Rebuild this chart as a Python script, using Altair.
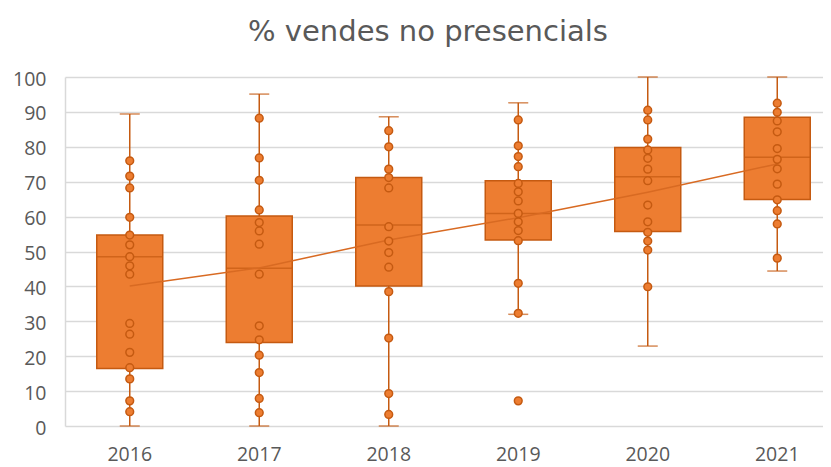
import altair as alt
import pandas as pd

years = ["2016", "2017", "2018", "2019", "2020", "2021"]
whisker_low = [0, 0, 0, 32.0, 22.9, 44.4]
whisker_high = [89.4, 95.1, 88.6, 92.6, 100, 100]
q1 = [16.5, 23.9, 40.1, 53.3, 55.7, 64.9]
q3 = [54.7, 60.2, 71.2, 70.3, 79.8, 88.5]
median = [48.5, 45.2, 57.6, 60.9, 71.4, 77.0]
mean = [40.1, 45.3, 53.3, 59.7, 67.0, 75.1]

pts_2016 = [76.0, 71.6, 68.2, 59.8, 54.7, 51.9, 48.5, 45.9, 43.5, 29.4, 26.3, 21.1, 16.7, 13.5, 7.2, 4.1]
pts_2017 = [88.2, 76.8, 70.4, 61.9, 58.3, 55.9, 52.1, 43.5, 28.7, 24.7, 20.3, 15.3, 7.9, 3.8]
pts_2018 = [84.6, 80.0, 73.6, 71.2, 68.2, 57.1, 53.0, 49.7, 45.5, 38.5, 25.2, 9.3, 3.3]
pts_2019 = [87.7, 80.3, 77.2, 74.3, 69.5, 67.1, 64.5, 60.9, 58.5, 56.0, 53.1, 40.9, 32.3, 7.2]
pts_2020 = [90.5, 87.7, 82.2, 79.1, 76.7, 73.6, 70.3, 63.3, 58.5, 55.5, 53.0, 50.4, 39.9]
pts_2021 = [92.5, 89.9, 87.4, 84.3, 79.5, 76.4, 73.7, 69.3, 64.8, 61.7, 57.9, 48.1]

points = [pts_2016, pts_2017, pts_2018, pts_2019, pts_2020, pts_2021]

summary = pd.DataFrame({
    "year": years, "low": whisker_low, "high": whisker_high,
    "q1": q1, "q3": q3, "median": median, "mean": mean,
})
pts = pd.DataFrame(
    [{"year": y, "value": v} for y, vals in zip(years, points) for v in vals]
)

FILL = "#ED7D31"
EDGE = "#C55A11"
FONT = "Open Sans"
GRID = "#D9D9D9"
TEXT = "#595959"

xscale = alt.Scale(domain=years, range=[0, 777], paddingInner=0, paddingOuter=0)
yscale = alt.Scale(domain=[0, 100], nice=False)

x_axis = alt.Axis(title=None, labelFont=FONT, labelFontSize=19.5, labelColor=TEXT,
                  ticks=False, labelPadding=19, domain=False, grid=False, labelAngle=0)
y_axis = alt.Axis(title=None, labelFont=FONT, labelFontSize=19.5, labelColor=TEXT,
                  ticks=False, labelPadding=19, values=list(range(0, 101, 10)),
                  labelOverlap=False, labelOffset=2,
                  grid=True, gridColor=GRID, gridWidth=1.5, domainColor=GRID,
                  domainWidth=1.5)

X = lambda: alt.X("year:N", scale=xscale, axis=x_axis, bandPosition=0.5)
Y = lambda f: alt.Y(f, scale=yscale, axis=y_axis)
base_s = alt.Chart(summary)

whisker = base_s.mark_rule(color=EDGE, strokeWidth=1.5).encode(
    x=X(), y=Y("low:Q"), y2="high:Q")
caps_hi = base_s.mark_tick(color=EDGE, size=20, thickness=1.5, orient="horizontal").encode(
    x=X(), y=Y("high:Q"))
caps_lo = base_s.mark_tick(color=EDGE, size=20, thickness=1.5, orient="horizontal").encode(
    x=X(), y=Y("low:Q"))
box = base_s.mark_bar(fill=FILL, stroke=EDGE, strokeWidth=1.5, size=66).encode(
    x=alt.X("year:N", scale=xscale, axis=x_axis), y=Y("q1:Q"), y2="q3:Q")
med = base_s.mark_tick(color=EDGE, size=66, thickness=1.5, orient="horizontal").encode(
    x=X(), y=Y("median:Q"))
mean_line = base_s.mark_line(color="#D86A22", strokeWidth=1.5).encode(
    x=X(), y=Y("mean:Q"))
dots = alt.Chart(pts).mark_point(filled=True, fill=FILL, stroke=EDGE, strokeWidth=1.5,
                                 size=60, opacity=1, shape="circle").encode(
    x=X(), y=Y("value:Q"))

chart = alt.layer(whisker, caps_hi, caps_lo, box, med, mean_line, dots).properties(
    width=758, height=349,
    padding={"left": 57, "top": 69, "right": 0, "bottom": 41},
    autosize=alt.AutoSizeParams(type="none"),
    title=alt.TitleParams("% vendes no presencials", font="DejaVu Sans", fontSize=29,
                          fontWeight="normal", color=TEXT, anchor="middle",
                          offset=22, dx=-16),
).configure_view(stroke=None).configure_axisY(labelOverlap=False)

chart.save("out.html", embed_options={"renderer": "svg", "actions": False})
